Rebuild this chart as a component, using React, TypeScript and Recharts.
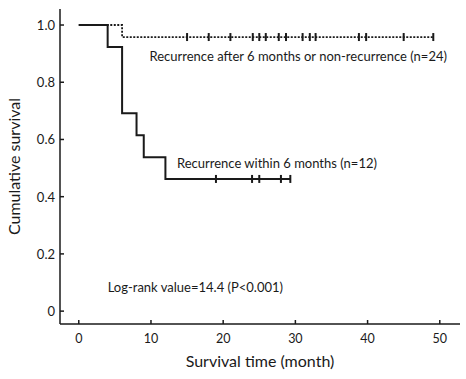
import React from "react";
import {
  ComposedChart,
  Line,
  Scatter,
  XAxis,
  YAxis,
  ReferenceDot,
} from "recharts";

// Kaplan-Meier steps
const earlyTimes = [0, 4, 6, 8, 9, 12, 29.3];
const earlySurv = [1, 0.923, 0.692, 0.615, 0.538, 0.462, 0.462];
const earlyCensor = [19, 24, 25, 28, 29.3];

const lateTimes = [0, 6, 49.1];
const lateSurv = [1, 0.958, 0.958];
const lateCensor = [15, 18, 21, 24.1, 25, 25.9, 27.7, 28.7, 31, 32, 32.8, 38.8, 39.8, 45, 49.1];

const xTicks = [0, 10, 20, 30, 40, 50];
const yTicks = [0, 0.2, 0.4, 0.6, 0.8, 1.0];

const earlyLabel = "Recurrence within 6 months (n=12)";
const lateLabel = "Recurrence after 6 months or non-recurrence (n=24)";
const statLabel = "Log-rank value=14.4 (P<0.001)";

const FONT = "Lato, 'Open Sans', sans-serif";
const INK = "#1a1a1a";

function stepAt(times: number[], surv: number[], t: number): number {
  let v = surv[0];
  for (let i = 0; i < times.length; i++) {
    if (times[i] <= t) v = surv[i];
  }
  return v;
}

const earlyLine = earlyTimes.map((t, i) => ({ t, s: earlySurv[i] }));
const lateLine = lateTimes.map((t, i) => ({ t, s: lateSurv[i] }));
const earlyMarks = earlyCensor.map((t) => ({ t, s: stepAt(earlyTimes, earlySurv, t) }));
const lateMarks = lateCensor.map((t) => ({ t, s: stepAt(lateTimes, lateSurv, t) }));

const CensorMark = (props: any) => {
  const { cx, cy } = props;
  return <line x1={cx} x2={cx} y1={cy - 4} y2={cy + 4} stroke={INK} strokeWidth={2} />;
};

const XTick = (props: any) => {
  const { x, y, payload } = props;
  return (
    <g>
      <line x1={x} x2={x} y1={y - 14} y2={y - 18} stroke={INK} strokeWidth={1.5} />
      <text x={x} y={y} textAnchor="middle" dominantBaseline="central" fontSize={12.5} fill={INK} fontFamily={FONT}>
        {payload.value}
      </text>
    </g>
  );
};

const YTick = (props: any) => {
  const { x, y, payload } = props;
  const v = Number(payload.value);
  return (
    <g>
      <line x1={x + 5} x2={x + 9} y1={y} y2={y} stroke={INK} strokeWidth={1.5} />
      <text x={x} y={y} textAnchor="end" dominantBaseline="central" fontSize={13} fill={INK} fontFamily={FONT}>
        {v === 0 ? "0" : v.toFixed(1)}
      </text>
    </g>
  );
};

const note = (text: string) => (p: any) => (
  <text x={p.cx} y={p.cy} dominantBaseline="central" fontSize={13} fill={INK} fontFamily={FONT}>
    {text}
  </text>
);

export default function App() {
  return (
    <div style={{ position: "absolute", left: 0, top: 0, width: 466, height: 379, background: "#fff" }}>
      <ComposedChart width={466} height={379} margin={{ top: 9, right: 6, left: 0, bottom: 0 }}>
        <XAxis
          dataKey="t"
          type="number"
          domain={[-2.6, 52.8]}
          ticks={xTicks}
          allowDataOverflow
          tickSize={0}
          tickMargin={14}
          tick={<XTick />}
          height={55}
          axisLine={{ stroke: INK, strokeWidth: 1.5 }}
          label={{
            value: "Survival time (month)",
            position: "insideBottom",
            offset: 12,
            style: { fontSize: 16, fill: INK, fontFamily: FONT },
          }}
        />
        <YAxis
          dataKey="s"
          type="number"
          domain={[-0.045, 1.056]}
          ticks={yTicks}
          allowDataOverflow
          tickSize={0}
          tickMargin={5}
          tick={<YTick />}
          width={60}
          axisLine={{ stroke: INK, strokeWidth: 1.5 }}
          label={{
            value: "Cumulative survival",
            angle: -90,
            position: "insideLeft",
            offset: 14,
            style: { fontSize: 16, fill: INK, fontFamily: FONT, textAnchor: "middle" },
          }}
        />
        <Line
          data={lateLine}
          dataKey="s"
          type="stepAfter"
          stroke={INK}
          strokeWidth={1.8}
          strokeDasharray="2 1.5"
          dot={false}
          activeDot={false}
          isAnimationActive={false}
        />
        <Line
          data={earlyLine}
          dataKey="s"
          type="stepAfter"
          stroke={INK}
          strokeWidth={2}
          dot={false}
          activeDot={false}
          isAnimationActive={false}
        />
        <Scatter data={lateMarks} dataKey="s" shape={<CensorMark />} isAnimationActive={false} />
        <Scatter data={earlyMarks} dataKey="s" shape={<CensorMark />} isAnimationActive={false} />
        <ReferenceDot x={9.8} y={0.892} r={0} shape={note(lateLabel)} />
        <ReferenceDot x={13.6} y={0.517} r={0} shape={note(earlyLabel)} />
        <ReferenceDot x={4} y={0.084} r={0} shape={note(statLabel)} />
      </ComposedChart>
    </div>
  );
}
